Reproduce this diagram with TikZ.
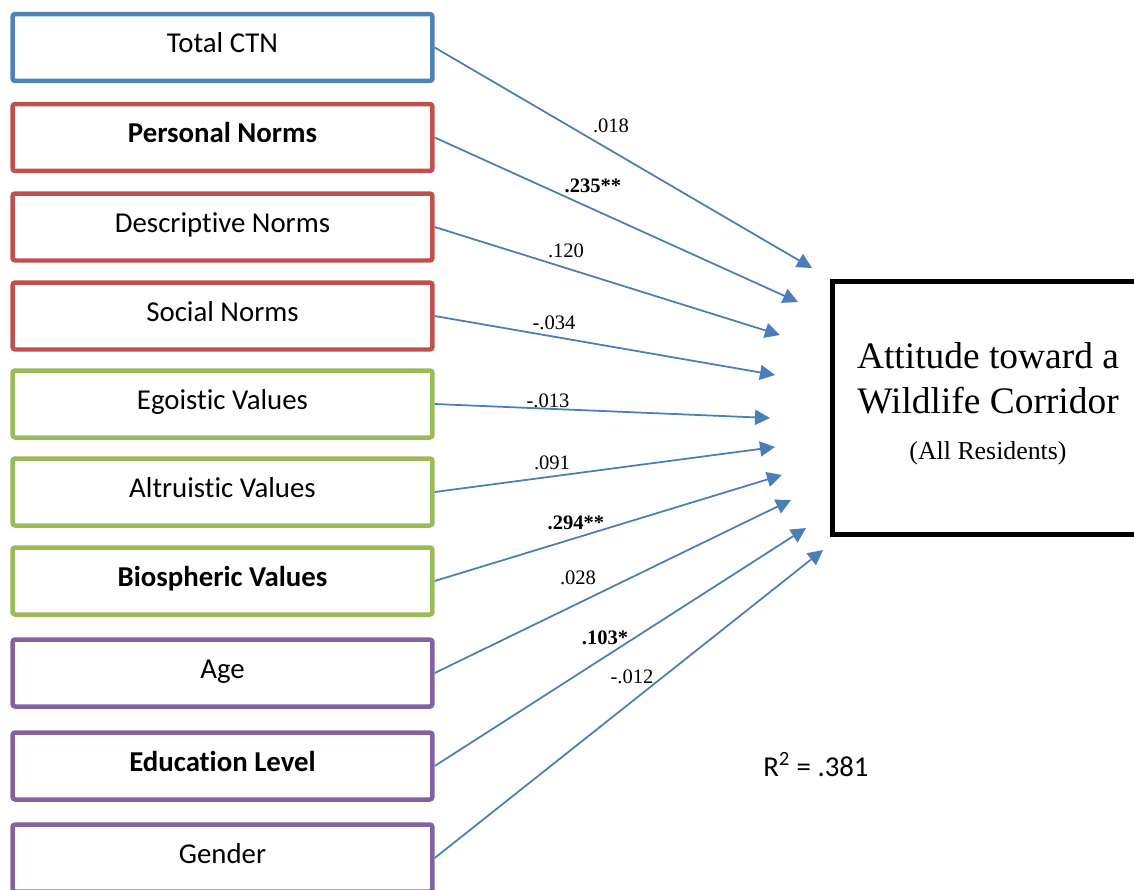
\documentclass[tikz,border=0pt]{standalone}
\usepackage{fontspec}
\setmainfont{Liberation Serif}
\newfontfamily\boxfont[Ligatures=NoCommon]{Carlito}
\usepackage{tikz}
\usetikzlibrary{arrows.meta}

\definecolor{ctnblue}{HTML}{4F81BD}
\definecolor{normred}{HTML}{C0504D}
\definecolor{valgreen}{HTML}{9BBB59}
\definecolor{demopurple}{HTML}{8064A2}
\definecolor{effectblue}{HTML}{4A7EBB}

\begin{document}
\begin{tikzpicture}[
  x=0.02cm, y=-0.02cm,
  predictor/.style={rectangle, draw, line width=0.09cm, rounded corners=1.5pt,
    minimum width=8.4cm, minimum height=1.34cm, inner sep=0pt,
    text height=0.4cm, text depth=0.2cm,
    font=\boxfont\fontsize{16.4}{19}\selectfont},
  outcome/.style={rectangle, draw=black, line width=0.1cm,
    minimum width=6.22cm, minimum height=5.06cm, inner sep=0pt, align=center,
    font=\fontsize{21.3}{25.6}\selectfont},
  coef/.style={inner sep=1pt, font=\fontsize{11.7}{14}\selectfont},
  effect/.style={draw=effectblue, line width=1pt,
    -{Triangle[length=0.3cm, width=0.3cm]}}
]
\useasboundingbox (0,0) rectangle (1134,890);
\clip (0,0) rectangle (1134,890);

\node[predictor, draw=ctnblue] (ctn) at (222.5,47.5) {Total CTN};
\node[predictor, draw=normred] (pn) at (222.5,137.5) {\bfseries Personal Norms};
\node[predictor, draw=normred] (dn) at (222.5,227) {Descriptive Norms};
\node[predictor, draw=normred] (sn) at (222.5,316) {Social Norms};
\node[predictor, draw=valgreen] (ego) at (222.5,404) {Egoistic Values};
\node[predictor, draw=valgreen] (alt) at (222.5,492) {Altruistic Values};
\node[predictor, draw=valgreen] (bio) at (222.5,581) {\bfseries Biospheric Values};
\node[predictor, draw=demopurple] (age) at (222.5,673) {Age};
\node[predictor, draw=demopurple] (edu) at (222.5,766) {\bfseries Education Level};
\node[predictor, draw=demopurple] (gen) at (222.5,858) {Gender};

\node[outcome] (att) at (988,408)
  {Attitude toward a\\Wildlife Corridor\\[0.5pt]\fontsize{14.7}{17}\selectfont (All Residents)\rule[-0.27cm]{0pt}{0pt}};

\coordinate (t1) at (812,268);
\coordinate (t2) at (798,302);
\coordinate (t3) at (780,335);
\coordinate (t4) at (775,375);
\coordinate (t5) at (770,418);
\coordinate (t6) at (775,447);
\coordinate (t7) at (782,475);
\coordinate (t8) at (791,500);
\coordinate (t9) at (806,528);
\coordinate (t10) at (823,550);

\draw[effect] (ctn.east) -- (t1);
\draw[effect] (pn.east) -- (t2);
\draw[effect] (dn.east) -- (t3);
\draw[effect] (sn.east) -- (t4);
\draw[effect] (ego.east) -- (t5);
\draw[effect] (alt.east) -- (t6);
\draw[effect] (bio.east) -- (t7);
\draw[effect] (age.east) -- (t8);
\draw[effect] (edu.east) -- (t9);
\draw[effect] (gen.east) -- (t10);

\node[coef] (b1) at (611,126) {.018};
\node[coef] (b2) at (593,186) {\bfseries .235**};
\node[coef] (b3) at (566,251) {.120};
\node[coef] (b4) at (554,323) {-.034};
\node[coef] (b5) at (548,401) {-.013};
\node[coef] (b6) at (552,463) {.091};
\node[coef] (b7) at (576,523) {\bfseries .294**};
\node[coef] (b8) at (578,578) {.028};
\node[coef] (b9) at (605,638) {\bfseries .103*};
\node[coef] (b10) at (632,677) {-.012};

\node[font=\boxfont\fontsize{16.4}{19}\selectfont] (rsq) at (816,765) {R\textsuperscript{2} = .381};
\end{tikzpicture}
\end{document}
